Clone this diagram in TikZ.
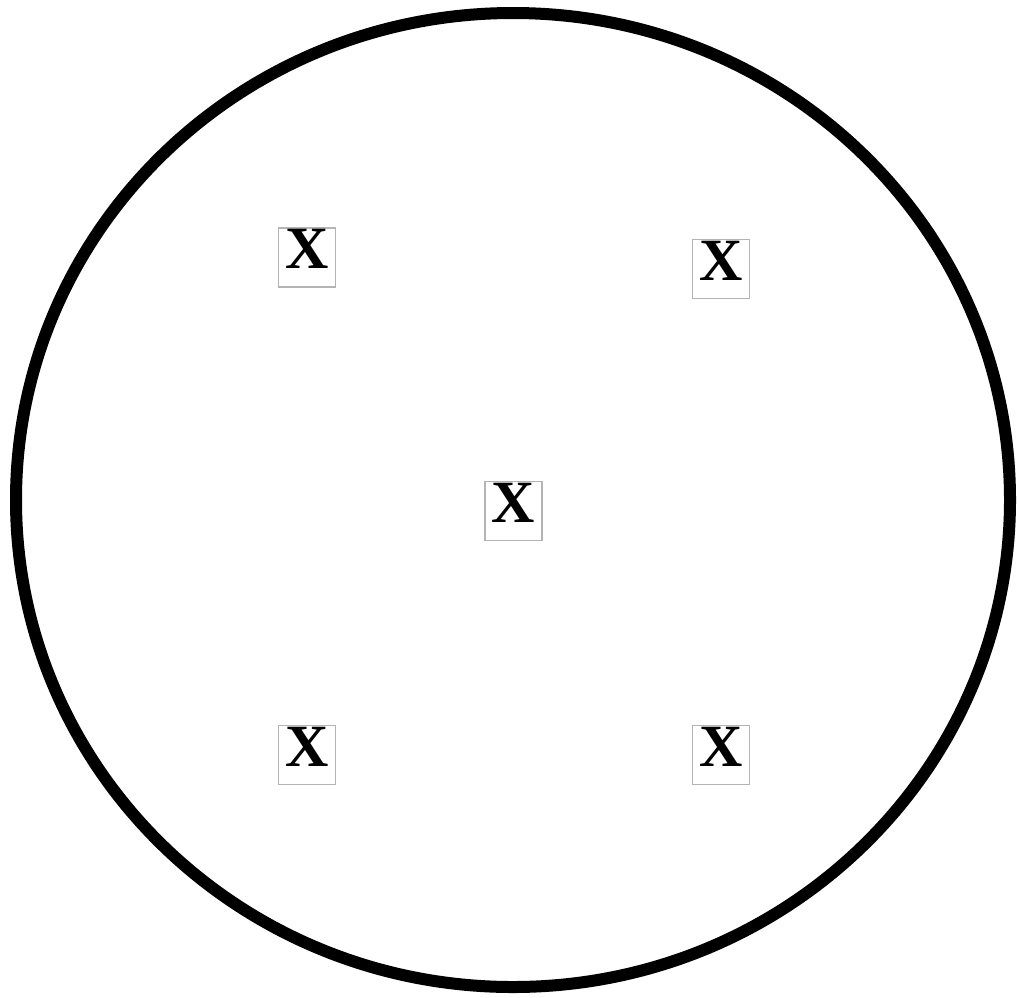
\documentclass[tikz,border=0pt]{standalone}
\usepackage{fontspec}
\setmainfont{Liberation Serif}
\usepackage{xcolor}
\usepackage{tikz}
\definecolor{boxgray}{HTML}{B4B4B4}

\begin{document}
\begin{tikzpicture}[
  x=1pt,y=-1pt,
  ring/.style={draw=black,line width=12pt},
  mark box/.style={draw=boxgray,line width=1.2pt,fill=white,inner sep=0pt,
                   minimum width=57pt,minimum height=59pt,text depth=17pt,
                   font=\fontsize{60}{60}\selectfont\bfseries}
]
  \useasboundingbox (0,0) rectangle (1019,997);
  \draw[ring] (513,500) ellipse [x radius=497,y radius=487];
  \node[mark box] (x1) at (307,257.5) {X};
  \node[mark box] (x2) at (721,269) {X};
  \node[mark box] (x3) at (513.5,511) {X};
  \node[mark box] (x4) at (307,755) {X};
  \node[mark box] (x5) at (721,755) {X};
\end{tikzpicture}
\end{document}
